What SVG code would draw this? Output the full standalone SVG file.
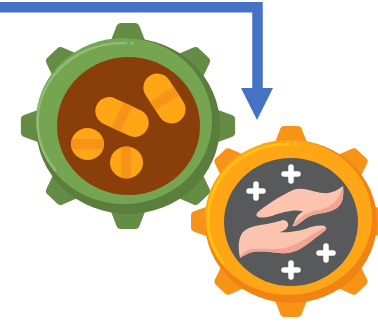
<svg xmlns="http://www.w3.org/2000/svg" width="378" height="323" viewBox="0 0 378 323">
<defs>
<path id="tooth" d="M-17,-84 L-10.800,-100.500 Q-9.800,-103 -7,-103 L7,-103 Q9.800,-103 10.800,-100.500 L17,-84 Z"/>
<g id="teeth">
<use href="#tooth"/>
<use href="#tooth" transform="rotate(45)"/>
<use href="#tooth" transform="rotate(90)"/>
<use href="#tooth" transform="rotate(135)"/>
<use href="#tooth" transform="rotate(180)"/>
<use href="#tooth" transform="rotate(225)"/>
<use href="#tooth" transform="rotate(270)"/>
<use href="#tooth" transform="rotate(315)"/>
</g>
<path id="plus" d="M0,-7V7M-7,0H7" fill="none" stroke="#fff" stroke-width="5.500" stroke-linecap="round"/>
<clipPath id="c3"><ellipse cx="87.500" cy="144" rx="16.500" ry="16"/></clipPath>
<clipPath id="c4"><ellipse cx="126.500" cy="162.500" rx="16.500" ry="16"/></clipPath>
</defs>
<style>
.pill{fill:#ffa617}.band{fill:#f79418}
</style>
<g id="connectors">
<path d="M0,7.300H257.500V92" fill="none" stroke="#4472c4" stroke-width="10.500"/>
<path d="M241,88H273L257,120Z" fill="#4472c4"/>
</g>
<g id="green-gear">
<use href="#teeth" fill="#648c44" transform="translate(128,126) scale(1.040,1)"/>
<ellipse cx="128" cy="126" rx="92" ry="88" fill="#5b7e3c"/>
<ellipse cx="124" cy="121" rx="88" ry="83" fill="#76a552"/>
<ellipse cx="128.500" cy="126" rx="71.500" ry="69" fill="#8a3f0b"/>
<path d="M55,170A85,79 0 0 1 126,43" fill="none" stroke="#93bb75" stroke-width="2.500" stroke-linecap="round"/>
<circle cx="132" cy="43" r="1.500" fill="#93bb75"/>
<g id="pill-1" transform="translate(122,117) rotate(25)">
<rect x="-28" y="-14" width="56" height="28" rx="14" class="pill"/>
<rect x="-5" y="-14" width="10" height="28" class="band"/>
</g>
<g id="pill-2" transform="translate(164.500,98.500) rotate(-33)">
<rect x="-14" y="-27" width="28" height="54" rx="14" class="pill"/>
<rect x="-14" y="-5" width="28" height="10" class="band"/>
</g>
<g id="pill-3">
<ellipse cx="87.500" cy="144" rx="16.500" ry="16" class="pill"/>
<rect x="71" y="139" width="33" height="10" class="band" clip-path="url(#c3)"/>
</g>
<g id="pill-4">
<ellipse cx="126.500" cy="162.500" rx="16.500" ry="16" class="pill"/>
<rect x="121" y="146.500" width="10" height="32" class="band" clip-path="url(#c4)"/>
</g>
</g>
<g id="orange-gear">
<use href="#teeth" fill="#f79418" transform="translate(291,221.500) scale(0.971,0.927)"/>
<ellipse cx="291" cy="221.500" rx="86" ry="81.500" fill="#f08314"/>
<ellipse cx="288.500" cy="217.500" rx="83.500" ry="77.500" fill="#ffa617"/>
<ellipse cx="291" cy="222" rx="67" ry="64" fill="#58595b"/>
<path d="M223,263A79,75 0 0 1 288,144" fill="none" stroke="#ffc40f" stroke-width="2.500" stroke-linecap="round"/>
<circle cx="295" cy="144" r="1.500" fill="#ffc40f"/>
<g id="plus-signs">
<use href="#plus" x="291" y="174"/>
<use href="#plus" x="256" y="191"/>
<use href="#plus" x="326" y="253"/>
<use href="#plus" x="291" y="270"/>
</g>
<g id="hands">
<path d="M257,213C263,207 280,196 293,190C303,186 313,192 323,193C331,194 338,190 343,186C344,195 343,203 338,207C333,212 322,213 313,215C306,217 302,222 297,225C295,226 292,227 293,225C295,221 296,215 303,211.500C295,209 283,212 272,216C265,218 254,219 257,213Z" fill="#fcc4ae"/>
<path d="M343,186C344,195 343,203 338,207C333,212 322,213 313,215C306,217 302,222 297,225C295,226 292,227 293,225C297,220 304,213 314,211C326,209 338,205 343,186Z" fill="#f0a494"/>
<path d="M240,258C238,248 238,238 243,232C248,227 258,225 267,224C273,223 279,221 283,220C287,220 289,224 288,226C286,230 282,232 278,232C288,233 300,231 308,228C314,226 322,224 326,227C327,229 325,231 322,233C315,238 307,245 300,249C294,252 288,254 280,253C270,252 260,251 253,252C248,253 243,256 240,258Z" fill="#fcc4ae"/>
<path d="M326,227C327,229 325,231 322,233C315,238 307,245 300,249C294,252 288,254 280,253C270,252 260,251 253,252C248,253 243,256 240,258C241,254 245,250 253,249C262,248 275,250 285,248C298,245 310,235 326,227Z" fill="#f0a494"/>
</g>
</g>
</svg>
